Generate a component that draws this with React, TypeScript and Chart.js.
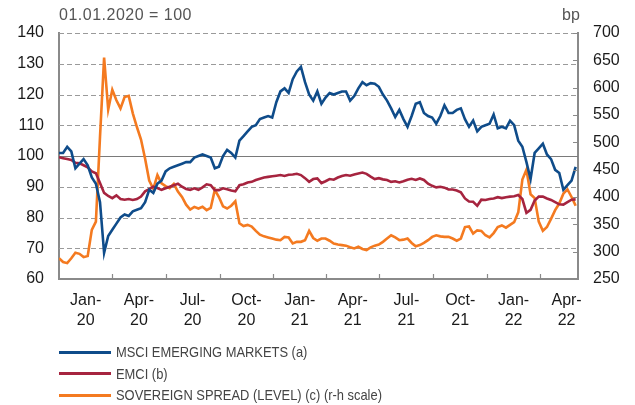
import React, { useEffect, useRef } from "react";
import { Chart, registerables } from "chart.js";

Chart.register(...registerables);

// ---- data (weekly observations, starting 1 Jan 2020) ----
const START_DATE = "2020-01-01";
const STEP_DAYS = 7;

const msci = [
  101, 101, 103, 101.5, 96, 97.5, 99, 97, 93, 91,
  85, 68.5, 74, 76, 78, 80, 81, 80.5, 82, 82.5,
  83, 85, 89, 88, 91, 92, 95, 96, 96.5, 97,
  97.5, 98, 98, 99.5, 100, 100.5, 100, 99.5, 96, 96.5,
  100, 102, 101, 99.5, 105, 106.5, 108, 109.5, 110, 112,
  112.5, 113, 112.5, 117.5, 121, 122, 120.5, 125, 127.5, 129,
  124, 120, 118, 121, 117, 119, 120.5, 120, 120.5, 121,
  121, 118, 119.5, 122, 124, 123, 123.7, 123.5, 122.5, 120,
  118, 115.5, 112.7, 115, 112, 109.5, 113, 117, 117.5, 114,
  113, 112.5, 110.5, 113, 116.5, 114, 114, 115, 115.5, 112,
  109.5, 111.5, 108, 109.5, 110, 110.5, 113.5, 109, 109.5, 109,
  111.5, 110, 105, 103, 98, 92.5, 101, 102.5, 104, 100.5,
  99, 95.5, 94.5, 89, 90.5, 92, 96.5,
];

const emci = [
  99.6, 99.3, 99, 98.7, 97.8, 97.6, 97, 96.3, 95, 94.4,
  91.2, 88, 87, 86.3, 87.2, 86, 85.8, 86, 85.7, 86,
  86.8, 88.5, 89.2, 90, 89.6, 89, 89.5, 90, 90.5, 91,
  90, 89.3, 89, 89.5, 89, 89.8, 90.8, 90.5, 88.9, 88.9,
  89.5, 89.2, 88.8, 88.5, 90.5, 90.8, 91.4, 91.6, 92.2, 92.6,
  93, 93.2, 93.4, 93.6, 93.8, 93.5, 93.9, 94, 94.2, 93.8,
  92.8, 91.6, 92.5, 92.7, 91.2, 91.8, 92.5, 92.3, 93, 93.5,
  93.8, 93.6, 94, 94.3, 94.6, 94.2, 93.3, 92.5, 92.8, 92.4,
  92.2, 91.6, 91.8, 91.4, 91.8, 92.3, 92.6, 92.2, 92.7, 92.2,
  91, 90.3, 89.8, 90, 89.7, 89.1, 89.1, 88.8, 88.2, 86.2,
  85.2, 85.1, 83.8, 85.8, 85.7, 86, 86.2, 86.6, 86.3, 86.6,
  86.8, 86.9, 87.3, 86, 81.5, 82.5, 85.5, 86.8, 86.8, 86.2,
  85.7, 85, 84.3, 84.2, 85, 85.8, 85.9,
];

const spread = [
  288, 281, 279, 288, 298, 296, 290, 292, 340, 355,
  510, 655, 560, 596, 577, 562, 583, 585, 553, 528,
  505, 470, 430, 415, 440, 425, 420, 416, 424, 410,
  400, 386, 377, 382, 379, 382, 376, 380, 413, 400,
  383, 379, 384, 392, 352, 347, 349, 346, 338, 331,
  328, 326, 324, 322, 321, 327, 326, 315, 318, 318,
  321, 338, 325, 320, 324, 324, 320, 315, 313, 312,
  311, 308, 306, 309, 305, 303, 308, 311, 313, 318,
  324, 330, 326, 321, 322, 324, 316, 310, 312, 316,
  321, 327, 330, 328, 327, 327, 324, 320, 324, 345,
  346, 333, 339, 338, 330, 326, 334, 345, 348, 344,
  349, 354, 372, 432, 450, 405, 398, 355, 338, 345,
  360, 376, 388, 406, 414, 400, 384,
];

const quarterStarts = [
  "2020-01-01", "2020-04-01", "2020-07-01", "2020-10-01",
  "2021-01-01", "2021-04-01", "2021-07-01", "2021-10-01",
  "2022-01-01", "2022-04-01", "2022-07-01",
];
const quarterLabels = [
  "Jan-20", "Apr-20", "Jul-20", "Oct-20",
  "Jan-21", "Apr-21", "Jul-21", "Oct-21",
  "Jan-22", "Apr-22",
];
const X_END_DATE = "2022-06-05";

const leftTicks = { min: 60, max: 140, step: 10 };
const rightTicks = { min: 250, max: 700, step: 50 };
const BASE_VALUE = 100;

const seriesNames = [
  "MSCI EMERGING MARKETS (a)",
  "EMCI (b)",
  "SOVEREIGN SPREAD (LEVEL) (c) (r-h scale)",
];
const COLORS = ["#0f4c8a", "#a6243f", "#f47a20"];
const AXIS = "#8a8a8a";
const FONT = "'Liberation Sans', Arial, Helvetica, sans-serif";

const dayOf = (s: string) =>
  (Date.parse(s + "T00:00:00Z") - Date.parse(START_DATE + "T00:00:00Z")) / 86400000;

const qDays = quarterStarts.map(dayOf);
const labelDays = quarterLabels.map((_, i) => (qDays[i] + qDays[i + 1]) / 2);

const toPoints = (arr: number[]) => arr.map((v, i) => ({ x: i * STEP_DAYS, y: v }));

// dashed horizontal grid at the left-axis ticks, solid line at the base value
const gridPlugin = {
  id: "customGrid",
  beforeDatasetsDraw(chart: any) {
    const { ctx, chartArea, scales } = chart;
    const y = scales.y;
    ctx.save();
    y.ticks.forEach((t: any) => {
      if (t.value === leftTicks.min) return;
      const py = Math.round(y.getPixelForValue(t.value)) + 0.5;
      ctx.beginPath();
      if (t.value === BASE_VALUE) {
        ctx.setLineDash([]);
        ctx.strokeStyle = "#7a7a7a";
        ctx.lineWidth = 1.2;
      } else {
        ctx.setLineDash([5, 3]);
        ctx.strokeStyle = "#9a9a9a";
        ctx.lineWidth = 1;
      }
      ctx.moveTo(chartArea.left, py);
      ctx.lineTo(chartArea.right, py);
      ctx.stroke();
    });
    ctx.restore();
  },
};

// inward tick marks on the bottom and right axes
const tickMarkPlugin = {
  id: "tickMarks",
  afterDraw(chart: any) {
    const { ctx, chartArea, scales } = chart;
    const x = scales.x;
    const y2 = scales.y2;
    ctx.save();
    ctx.strokeStyle = AXIS;
    ctx.lineWidth = 1.2;
    ctx.setLineDash([]);
    ctx.beginPath();
    qDays.forEach((d) => {
      if (d > x.min && d < x.max) {
        const px = Math.round(x.getPixelForValue(d)) + 0.5;
        ctx.moveTo(px, chartArea.bottom);
        ctx.lineTo(px, chartArea.bottom - 5);
      }
    });
    y2.ticks.forEach((t: any) => {
      const py = Math.round(y2.getPixelForValue(t.value)) + 0.5;
      ctx.moveTo(chartArea.right, py);
      ctx.lineTo(chartArea.right - 5, py);
    });
    ctx.stroke();
    ctx.restore();
  },
};

export default function App() {
  const ref = useRef<HTMLCanvasElement | null>(null);

  useEffect(() => {
    if (!ref.current) return;
    const chart = new Chart(ref.current, {
      type: "line",
      data: {
        datasets: [
          {
            label: seriesNames[0],
            data: toPoints(msci),
            borderColor: COLORS[0],
            borderWidth: 2.6,
            pointRadius: 0,
            yAxisID: "y",
          },
          {
            label: seriesNames[1],
            data: toPoints(emci),
            borderColor: COLORS[1],
            borderWidth: 2.6,
            pointRadius: 0,
            yAxisID: "y",
          },
          {
            label: seriesNames[2],
            data: toPoints(spread),
            borderColor: COLORS[2],
            borderWidth: 2.6,
            pointRadius: 0,
            yAxisID: "y2",
          },
        ],
      },
      options: {
        animation: false,
        responsive: false,
        devicePixelRatio: 1,
        layout: { padding: { top: 33, bottom: 76, left: 0, right: 0 } },
        plugins: { legend: { display: false }, tooltip: { enabled: false } },
        scales: {
          x: {
            type: "linear",
            min: 0,
            max: dayOf(X_END_DATE),
            grid: { display: false, drawTicks: false },
            border: { display: true, color: AXIS, width: 2 },
            afterBuildTicks: (axis: any) => {
              axis.ticks = labelDays.map((v) => ({ value: v }));
            },
            afterFit: (axis: any) => {
              axis.height = 50;
            },
            ticks: {
              autoSkip: false,
              maxRotation: 0,
              minRotation: 0,
              padding: 12,
              color: "#1a1a1a",
              font: { family: FONT, size: 16, lineHeight: 1.25 },
              callback: (_v: any, i: number) => {
                const l = quarterLabels[i] || "";
                const p = l.split("-");
                return [p[0] + "-", p[1]];
              },
            },
          },
          y: {
            position: "left",
            min: leftTicks.min,
            max: leftTicks.max,
            afterFit: (axis: any) => {
              axis.width = 59;
            },
            ticks: {
              stepSize: leftTicks.step,
              padding: 15,
              color: "#1a1a1a",
              font: { family: FONT, size: 16 },
            },
            grid: { display: false, drawTicks: false },
            border: { display: true, color: AXIS, width: 2 },
          },
          y2: {
            position: "right",
            min: rightTicks.min,
            max: rightTicks.max,
            afterFit: (axis: any) => {
              axis.width = 57;
            },
            ticks: {
              stepSize: rightTicks.step,
              padding: 15,
              color: "#1a1a1a",
              font: { family: FONT, size: 16 },
            },
            grid: { display: false, drawOnChartArea: false, drawTicks: false },
            border: { display: true, color: AXIS, width: 2 },
          },
        },
      },
      plugins: [gridPlugin, tickMarkPlugin],
    } as any);
    return () => chart.destroy();
  }, []);

  return (
    <div
      style={{
        position: "absolute",
        left: 0,
        top: 0,
        width: 635,
        height: 405,
        background: "#fff",
        overflow: "hidden",
      }}
    >
      <canvas ref={ref} width={635} height={405} style={{ width: 635, height: 405, display: "block" }} />
      <div
        style={{
          position: "absolute",
          left: 59,
          top: 6,
          fontFamily: FONT,
          fontSize: 16,
          letterSpacing: 0.5,
          color: "#555",
          lineHeight: "18px",
          whiteSpace: "nowrap",
        }}
      >
        01.01.2020 = 100
      </div>
      <div
        style={{
          position: "absolute",
          left: 562,
          top: 6,
          fontFamily: FONT,
          fontSize: 16,
          color: "#555",
          lineHeight: "18px",
        }}
      >
        bp
      </div>
      {seriesNames.map((name, i) => (
        <div
          key={name}
          style={{
            position: "absolute",
            left: 59,
            top: 341 + i * 21.7,
            height: 22,
            display: "flex",
            alignItems: "center",
            whiteSpace: "nowrap",
          }}
        >
          <span style={{ display: "inline-block", width: 52, height: 3, background: COLORS[i] }} />
          <span
            style={{
              marginLeft: 5,
              fontFamily: FONT,
              fontSize: 15,
              color: "#444",
              lineHeight: "22px",
              display: "inline-block",
              transform: "scaleX(0.86)",
              transformOrigin: "left center",
            }}
          >
            {name}
          </span>
        </div>
      ))}
    </div>
  );
}
